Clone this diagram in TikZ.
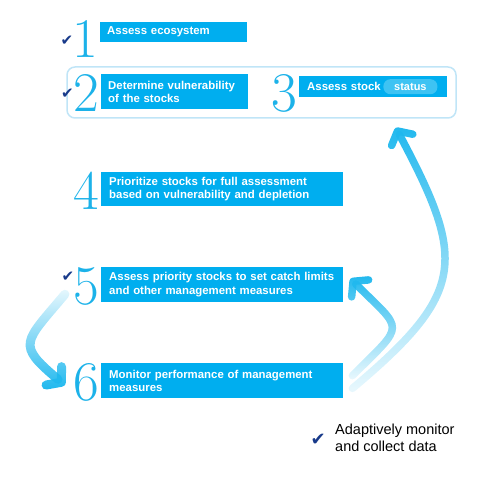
\documentclass[tikz,border=0pt]{standalone}
\usepackage{fontspec}
\setsansfont{Liberation Sans}
\newfontfamily\checkfont{DejaVu Sans}
\usepackage{xcolor}
\usepackage{tikz}
\usetikzlibrary{positioning, arrows.meta, fadings}

\definecolor{boxblue}{RGB}{0,174,239}
\definecolor{numblue}{RGB}{28,178,233}
\definecolor{frameblue}{RGB}{192,229,247}
\definecolor{pillblue}{RGB}{62,195,243}
\definecolor{checknavy}{RGB}{24,58,138}
\definecolor{cycleblue}{RGB}{32,184,238}

\tikzfading[name=fadeup, bottom color=transparent!90, middle color=transparent!10, top color=transparent!0]
\tikzfading[name=fadedown, top color=transparent!88, middle color=transparent!10, bottom color=transparent!0]

\begin{document}
\begin{tikzpicture}[
    x=1pt, y=1pt,
    stepbox/.style={fill=boxblue, text=white, anchor=north west, align=left, inner xsep=7pt, inner ysep=2pt,
        font=\sffamily\bfseries\fontsize{11.4}{13.3}\selectfont},
    num/.style={text=numblue, anchor=north east, inner sep=0pt, font=\rmfamily\fontsize{56}{56}\selectfont},
    checkmark/.style={text=checknavy, inner sep=0pt, font=\checkfont\fontsize{15}{15}\selectfont},
    group/.style={draw=frameblue, line width=1.5pt, rounded corners=8pt, minimum width=389pt, minimum height=51pt},
    pill/.style={fill=pillblue, text=white, rounded corners=7pt, minimum width=54pt, minimum height=15pt, inner sep=0pt,
        font=\sffamily\bfseries\fontsize{11}{13}\selectfont},
    note/.style={align=left, inner sep=0pt, font=\sffamily\fontsize{14.5}{17}\selectfont},
    cyclearrow/.style={draw=cycleblue, line width=#1, line cap=round,
        -{Straight Barb[length=10pt, width=24pt, line width=#1, round]}},
    cyclearrow/.default=7.5pt
]
\useasboundingbox (0,0) rectangle (487,477);

\node[group] (grp) at (261.5,384.5) {};

\node[stepbox, text width=133pt, minimum height=20pt] (b1) at (100,455) {Assess ecosystem};
\node[stepbox, text width=133pt, minimum height=35pt] (b2) at (101,403) {Determine vulnerability\\of the stocks};
\node[stepbox, text width=134pt, minimum height=21pt] (b3) at (299,401) {\hspace{1pt}Assess stock};
\node[pill] (st) at ([xshift=-37pt]b3.east) {status};
\node[stepbox, text width=228pt, minimum height=34pt] (b4) at (101,305) {\hspace{1pt}Prioritize stocks for full assessment\\\hspace{1pt}based on vulnerability and depletion};
\node[stepbox, text width=228pt, minimum height=35pt] (b5) at (101,210) {\hspace{1pt}Assess priority stocks to set catch limits\\\hspace{1pt}and other management measures};
\node[stepbox, text width=228pt, minimum height=35pt] (b6) at (101,114) {\hspace{1pt}Monitor performance of management\\\hspace{1pt}measures};

\node[num] (n1) at ([xshift=-2pt, yshift=2pt]b1.north west) {1};
\node[num] (n2) at ([xshift=-2pt]b2.north west) {2};
\node[num] (n3) at ([xshift=-2pt, yshift=2pt]b3.north west) {3};
\node[num] (n4) at ([xshift=-2pt]b4.north west) {4};
\node[num] (n5) at ([xshift=-2pt]b5.north west) {5};
\node[num] (n6) at ([xshift=-2pt]b6.north west) {6};

\node[checkmark, left=-1.5pt of n1, yshift=-2pt] (c1) {✔};
\node[checkmark, left=-1pt of n2, yshift=-1.5pt] (c2) {✔};
\node[checkmark, left=-1.5pt of n5, yshift=9pt] (c5) {✔};

\node[note, anchor=west] (adapt) at (335,39) {Adaptively monitor\\and collect data};
\node[checkmark, left=9pt of adapt, yshift=-2pt, font=\checkfont\fontsize{18}{18}\selectfont] (c0) {✔};

\draw[cyclearrow, path fading=fadeup] ([xshift=9pt, yshift=10pt]b6.south east)
    to[out=40, in=-62, looseness=1.45] ([xshift=-61pt, yshift=-9pt]grp.south east);
\draw[cyclearrow, path fading=fadeup] ([xshift=9pt, yshift=5pt]b6.east)
    to[out=45, in=-45, looseness=2] ([xshift=7pt, yshift=6pt]b5.east);
\draw[cyclearrow=9pt, path fading=fadedown] ([xshift=-8pt, yshift=11pt]n5.south west)
    to[out=-130, in=140, looseness=1.8] ([xshift=-8pt, yshift=-3pt]n6.west);
\end{tikzpicture}
\end{document}
